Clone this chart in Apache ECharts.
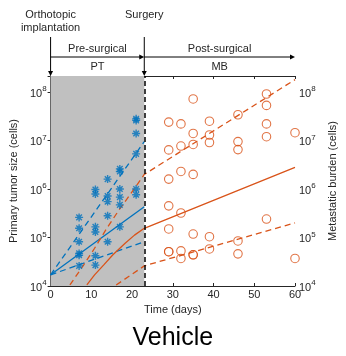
<!DOCTYPE html>
<html>
<head>
<meta charset="utf-8">
<script src="https://cdn.jsdelivr.net/npm/echarts@6/dist/echarts.min.js"></script>
<style>
  html, body { margin: 0; padding: 0; background: #fff; }
  #main { width: 346px; height: 356px; }
</style>
</head>
<body>
<div id="main"></div>
<script>
// 数据 - primary tumor (blue asterisks)
var ptDays = [7, 7, 7, 7, 7, 7,
              11, 11, 11, 11, 11, 11,
              14, 14, 14, 14, 14,
              17, 17, 17, 17, 17, 17,
              21, 21, 21, 21, 21, 21];
var ptCells = [2.6e5, 1.55e5, 8.2e4, 4.7e4, 4.3e4, 2.6e4,
               9.8e5, 7.9e5, 1.66e5, 1.3e5, 4.2e4, 2.7e4,
               1.6e6, 7.2e5, 5.5e5, 2.8e5, 8.2e4,
               2.6e6, 2.3e6, 1e6, 6.8e5, 4.7e5, 1.66e5,
               2.8e7, 2.6e7, 1.4e7, 5.3e6, 1e6, 7.6e5];

// metastatic burden (orange circles)
var mbDays = [29, 29, 29, 29, 29, 29, 29,
              32, 32, 32, 32, 32, 32,
              35, 35, 35, 35, 35, 35, 35,
              39, 39, 39, 39, 39,
              46, 46, 46, 46, 46,
              53, 53, 53, 53, 53,
              60, 60];
var mbCells = [2.4e7, 6.4e6, 1.6e6, 4.5e5, 1.5e5, 5.1e4, 5.1e4,
               2.2e7, 7.7e6, 2.3e6, 3.2e5, 5.3e4, 3.7e4,
               7.2e7, 1.4e7, 8.3e6, 2.0e6, 1.18e5, 4.4e4, 4.4e4,
               2.5e7, 1.3e7, 9.1e6, 1.04e5, 5.8e4,
               3.4e7, 9.5e6, 6.5e6, 8.5e4, 4.6e4,
               9.1e7, 5.3e7, 2.2e7, 1.2e7, 2.4e5,
               1.45e7, 3.7e4];

// fitted curves
var ptFit = [[0, 1.7e4], [23, 4.3e5]];
var ptFitHi = [[0, 1.7e4], [23, 9.5e6]];
var ptFitLo = [[0, 1.7e4], [23, 8.2e4]];
var mbFit = [[8.9, 1.05e4], [10.8, 1.7e4], [13, 2.7e4], [15.3, 4.4e4], [18.3, 7.6e4], [20.6, 1.12e5], [23, 1.55e5], [60, 2.8e6]];
var mbFitHi = [[4.75, 1.05e4], [8.1, 2.7e4], [10.8, 6.0e4], [13.8, 1.55e5], [16.8, 3.7e5], [19.5, 7.6e5], [23, 2.0e6], [60, 1.8e8]];
var mbFitLo = [[16.1, 1.05e4], [23, 2.6e4], [60, 2.0e5]];

var surgeryDay = 23;
var xTicks = [0, 10, 20, 30, 40, 50, 60];
var yMin = 1e4, yMax = 2.14e8;

var BLUE = '#0072BD', ORANGE = '#D95319', AX = '#262626';
var FONT = '"Liberation Sans", Arial, sans-serif';

function pairs(xs, ys) {
    var out = [];
    for (var i = 0; i < xs.length; i++) out.push([xs[i], ys[i]]);
    return out;
}

function powLabel(v) {
    var l = Math.log10(v), p = Math.round(l);
    if (Math.abs(l - p) > 1e-6) return '';
    return '{b|10}{s|' + p + '}';
}

var richPow = {
    b: { fontSize: 11, color: AX, fontFamily: FONT, verticalAlign: 'bottom', lineHeight: 14 },
    s: { fontSize: 8, color: AX, fontFamily: FONT, verticalAlign: 'top', lineHeight: 14 }
};

var asterisk = 'path://M0,10L20,10M10,0L10,20M3,3L17,17M17,3L3,17';

var e = echarts.init(document.getElementById('main'));

var option = {
    animation: false,
    grid: { left: 46, right: 35.3, top: 76, bottom: 70 },
    textStyle: { fontFamily: FONT },
    xAxis: [{
        type: 'value', min: xTicks[0], max: xTicks[xTicks.length - 1], interval: 10,
        name: 'Time (days)', nameLocation: 'middle', nameGap: 17,
        nameTextStyle: { fontSize: 11, color: AX, fontFamily: FONT },
        axisLine: { lineStyle: { color: AX, width: 1 } },
        axisTick: { inside: true, length: 3, lineStyle: { color: AX } },
        axisLabel: { fontSize: 11, color: AX, margin: 3, fontFamily: FONT },
        splitLine: { show: false }
    }, {
        type: 'value', position: 'top', min: 0, max: 60, interval: 10,
        axisLine: { lineStyle: { color: AX, width: 1 } },
        axisTick: { inside: true, length: 3, lineStyle: { color: AX } },
        axisLabel: { show: false },
        splitLine: { show: false }
    }],
    yAxis: [{
        type: 'log', logBase: 10, min: yMin, max: yMax, position: 'left',
        name: 'Primary tumor size (cells)', nameLocation: 'middle', nameGap: 27,
        nameTextStyle: { fontSize: 11, color: AX, fontFamily: FONT },
        axisLine: { show: true, lineStyle: { color: AX, width: 1 } },
        axisTick: { inside: true, length: 3, lineStyle: { color: AX } },
        axisLabel: { formatter: powLabel, rich: richPow, margin: 4 },
        splitLine: { show: false }
    }, {
        type: 'log', logBase: 10, min: yMin, max: yMax, position: 'right',
        name: 'Metastatic burden (cells)', nameLocation: 'middle', nameGap: 32,
        nameRotate: 90,
        nameTextStyle: { fontSize: 11, color: AX, fontFamily: FONT },
        axisLine: { show: true, lineStyle: { color: AX, width: 1 } },
        axisTick: { inside: true, length: 3, lineStyle: { color: AX } },
        axisLabel: { formatter: powLabel, rich: richPow, margin: 4 },
        splitLine: { show: false }
    }],
    series: [{
        // 灰色背景 + surgery line
        name: 'bg', type: 'line', data: [], z: 1, silent: true,
        markArea: {
            silent: true,
            itemStyle: { color: '#c0c0c0' },
            data: [[{ xAxis: 0 }, { xAxis: surgeryDay }]]
        },
        markLine: {
            silent: true, symbol: 'none', label: { show: false },
            lineStyle: { color: '#000', width: 1.5, type: [5, 3] },
            data: [{ xAxis: surgeryDay }]
        }
    }, {
        type: 'line', data: ptFit, z: 3, symbol: 'none',
        lineStyle: { color: BLUE, width: 1.3 }
    }, {
        type: 'line', data: ptFitHi, z: 3, symbol: 'none',
        lineStyle: { color: BLUE, width: 1.3, type: [6, 4] }
    }, {
        type: 'line', data: ptFitLo, z: 3, symbol: 'none',
        lineStyle: { color: BLUE, width: 1.3, type: [6, 4] }
    }, {
        type: 'line', data: mbFit, z: 3, symbol: 'none',
        lineStyle: { color: ORANGE, width: 1.3 }
    }, {
        type: 'line', data: mbFitHi, z: 3, symbol: 'none',
        lineStyle: { color: ORANGE, width: 1.3, type: [6, 4] }
    }, {
        type: 'line', data: mbFitLo, z: 3, symbol: 'none',
        lineStyle: { color: ORANGE, width: 1.3, type: [6, 4] }
    }, {
        type: 'scatter', data: pairs(ptDays, ptCells), z: 4,
        symbol: asterisk, symbolSize: 8,
        itemStyle: { color: 'transparent', borderColor: BLUE, borderWidth: 1.4 }
    }, {
        type: 'scatter', data: pairs(mbDays, mbCells), z: 4, clip: false,
        symbol: 'circle', symbolSize: 8.5,
        itemStyle: { color: 'transparent', borderColor: ORANGE, borderWidth: 1.1 }
    }]
};
e.setOption(option);

// 顶部标注
var x0 = e.convertToPixel({ xAxisIndex: 0 }, 0);
var xs = e.convertToPixel({ xAxisIndex: 0 }, surgeryDay);
var xe = e.convertToPixel({ xAxisIndex: 0 }, 60);
var gTop = 76;
var txt = function(x, y, s, size, col) {
    return { type: 'text', x: x, y: y, silent: true,
        style: { text: s, fill: col || AX, font: (size || 11) + 'px ' + FONT, textAlign: 'center', textVerticalAlign: 'middle' } };
};
var ln = function(a, b, c, d) {
    return { type: 'line', silent: true, shape: { x1: a, y1: b, x2: c, y2: d }, style: { stroke: '#000', lineWidth: 1 } };
};
var tri = function(pts) {
    return { type: 'polygon', silent: true, shape: { points: pts }, style: { fill: '#000' } };
};

e.setOption({
    graphic: [
        txt(x0, 15, 'Orthotopic'),
        txt(x0, 28, 'implantation'),
        txt(xs, 15, 'Surgery'),
        ln(x0, 37, x0, gTop - 4), tri([[x0 - 2.5, gTop - 5], [x0 + 2.5, gTop - 5], [x0, gTop]]),
        ln(xs, 37, xs, gTop - 4), tri([[xs - 2.5, gTop - 5], [xs + 2.5, gTop - 5], [xs, gTop]]),
        ln(x0, 57, xs - 4, 57), tri([[xs - 5, 54.5], [xs - 5, 59.5], [xs, 57]]),
        ln(xs, 57, xe - 4, 57), tri([[xe - 5, 54.5], [xe - 5, 59.5], [xe, 57]]),
        txt((x0 + xs) / 2, 49, 'Pre-surgical'),
        txt((xs + xe) / 2, 49, 'Post-surgical'),
        txt((x0 + xs) / 2, 67, 'PT'),
        txt((xs + xe) / 2, 67, 'MB'),
        txt((x0 + xe) / 2, 338, 'Vehicle', 25, '#000')
    ]
});
</script>
</body>
</html>
